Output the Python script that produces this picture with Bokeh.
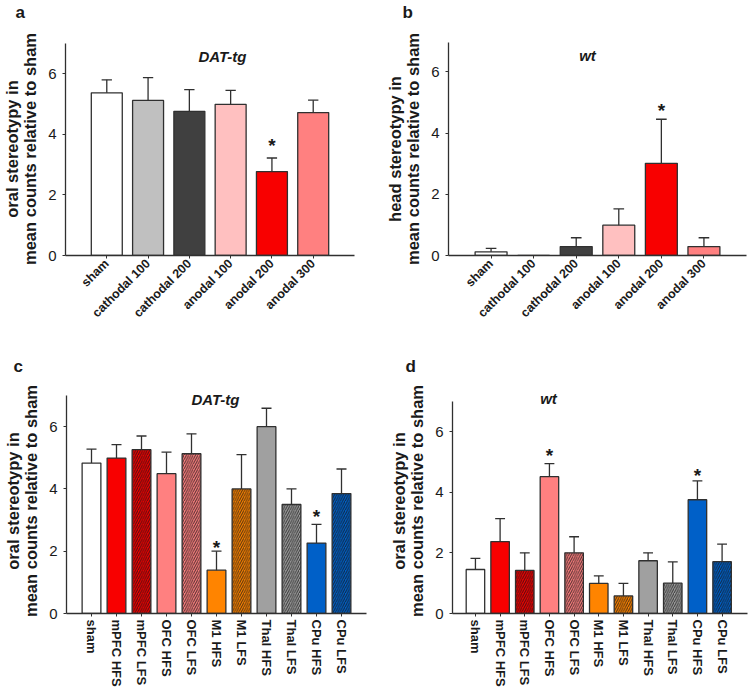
import math
from bokeh.plotting import figure
from bokeh.models import Range1d, FixedTicker, Label, Title
from bokeh.layouts import column, row
from bokeh.embed import file_html
from bokeh.resources import INLINE
from bokeh.core.properties import value

FONT = "Liberation Sans"
INK = "#1a1a1a"

# ---------------- data ----------------
ab_labels = ["sham", "cathodal 100", "cathodal 200", "anodal 100", "anodal 200", "anodal 300"]
ab_colors = ["#FFFFFF", "#C0C0C0", "#404040", "#FFC0C0", "#F80000", "#FF8080"]
ab_hatch = [" ", " ", " ", " ", " ", " "]

a_means = [5.37, 5.12, 4.76, 4.99, 2.77, 4.72]
a_upper = [5.80, 5.87, 5.48, 5.45, 3.22, 5.13]
a_stars = {"anodal 200": 3.96}

b_means = [0.12, 0.0, 0.29, 0.99, 3.01, 0.29]
b_upper = [0.23, 0.0, 0.58, 1.52, 4.45, 0.58]
b_stars = {"anodal 200": 5.05}

cd_labels = ["sham", "mPFC HFS", "mPFC LFS", "OFC HFS", "OFC LFS", "M1 HFS", "M1 LFS",
             "Thal HFS", "Thal LFS", "CPu HFS", "CPu LFS"]
cd_colors = ["#FFFFFF", "#F80000", "#F80000", "#FF8080", "#FF8080", "#FF8400", "#FF8400",
             "#A0A0A0", "#A0A0A0", "#0060C8", "#0060C8"]
cd_hatch = [" ", " ", "/", " ", "/", " ", "/", " ", "/", " ", "/"]

c_means = [4.83, 4.99, 5.26, 4.49, 5.13, 1.39, 4.00, 6.00, 3.50, 2.26, 3.85]
c_upper = [5.28, 5.42, 5.70, 5.18, 5.77, 2.00, 5.10, 6.59, 4.00, 2.86, 4.64]
c_stars = {"M1 HFS": 2.44, "CPu HFS": 3.45}

d_means = [1.45, 2.37, 1.42, 4.51, 2.00, 0.99, 0.58, 1.74, 1.00, 3.75, 1.71]
d_upper = [1.82, 3.13, 2.00, 4.94, 2.53, 1.24, 0.99, 2.00, 1.70, 4.37, 2.29]
d_stars = {"OFC HFS": 5.53, "CPu HFS": 4.87}

y_ticks = [0, 2, 4, 6]
Y_TOP = 7

oral = "oral stereotypy in\nmean counts relative to sham"
head = "head stereotypy in\nmean counts relative to sham"


def bar_panel(labels, means, upper, colors, hatches, stars, *, width, height, left, top,
              fw, bottom, data_h, xr, cap, orient, lab_size, ylab, title, title_pos,
              letter, letter_offset, letter_standoff, spacer):
    fh = height - top - bottom
    ymax = Y_TOP * fh / data_h
    p = figure(width=width, height=height, output_backend="svg", toolbar_location=None,
               x_range=Range1d(*xr), y_range=Range1d(0, ymax),
               min_border_left=left, min_border_top=top,
               min_border_right=width - left - fw, min_border_bottom=bottom)
    p.outline_line_color = None
    p.xgrid.visible = False
    p.ygrid.visible = False

    xs = list(range(1, len(labels) + 1))
    p.vbar(x=xs, top=means, width=0.75, fill_color=colors, line_color="#303030",
           line_width=1.3, hatch_pattern=hatches, hatch_color="#151515",
           hatch_scale=4.6, hatch_weight=1.0, hatch_alpha=0.75)

    keep = [i for i, (m, u) in enumerate(zip(means, upper)) if u > m]
    ex = [xs[i] for i in keep]
    em = [means[i] for i in keep]
    eu = [upper[i] for i in keep]
    p.segment(x0=ex, y0=em, x1=ex, y1=eu, line_color="#303030", line_width=1.3)
    p.segment(x0=[x - cap / 2 for x in ex], y0=eu, x1=[x + cap / 2 for x in ex], y1=eu,
              line_color="#303030", line_width=1.3)

    sx = [labels.index(k) + 1 for k in stars]
    sy = list(stars.values())
    p.text(x=sx, y=sy, text=["*"] * len(sx), text_font=value(FONT), text_font_style="bold",
           text_font_size="19px", text_align="center", text_baseline="alphabetic",
           y_offset=10, text_color=INK)

    p.yaxis.ticker = FixedTicker(ticks=y_ticks)
    p.yaxis.bounds = (0, Y_TOP)
    p.yaxis.minor_tick_line_color = None
    p.yaxis.major_tick_in = 0
    p.yaxis.major_tick_out = 3
    p.yaxis.major_label_standoff = 6
    p.yaxis.major_label_text_font = FONT
    p.yaxis.major_label_text_font_size = "15px"
    p.yaxis.major_label_text_color = INK
    p.yaxis.axis_label = ylab
    p.yaxis.axis_label_standoff = 6
    p.yaxis.axis_label_text_font = FONT
    p.yaxis.axis_label_text_font_style = "bold"
    p.yaxis.axis_label_text_font_size = "16.5px"
    p.yaxis.axis_label_text_line_height = 1.0
    p.yaxis.axis_label_text_color = INK

    p.xaxis.ticker = FixedTicker(ticks=xs)
    p.xaxis.major_label_overrides = {x: l for x, l in zip(xs, labels)}
    p.xaxis.minor_tick_line_color = None
    p.xaxis.major_tick_in = 0
    p.xaxis.major_tick_out = 3
    p.xaxis.major_label_standoff = 3
    p.xaxis.major_label_orientation = orient
    p.xaxis.major_label_text_font = FONT
    p.xaxis.major_label_text_font_style = "bold"
    p.xaxis.major_label_text_font_size = lab_size
    p.xaxis.major_label_text_color = INK
    for ax in (p.xaxis, p.yaxis):
        ax.axis_line_color = "#303030"
        ax.axis_line_width = 1.3
        ax.major_tick_line_color = "#303030"

    p.add_layout(Label(x=title_pos[0], y=title_pos[1], x_units="screen", y_units="screen",
                       text=title, text_align="center", text_baseline="alphabetic",
                       text_font=FONT, text_font_style="bold italic", text_font_size="15px",
                       text_color=INK))
    if spacer:
        # empty slot between the frame and the panel letter
        p.add_layout(Title(text=" ", standoff=0, text_font=FONT, text_font_size="15px"),
                     "above")
        valign = "top"
    else:
        valign = "bottom"
    p.add_layout(Title(text=letter, align="left", offset=letter_offset,
                       vertical_align=valign, standoff=letter_standoff,
                       text_font=FONT, text_font_style="bold", text_font_size="17px",
                       text_color=INK), "above")
    return p


H1, T1, B1 = 340, 42, 85   # row 1: height, top border, bottom border (x axis at y=255)
H2, T2, B2 = 356, 48, 83   # row 2 (x axis at y=340+273)

pa = bar_panel(ab_labels, a_means, a_upper, ab_colors, ab_hatch, a_stars,
               width=375, height=H1, left=63, top=T1, fw=291, bottom=B1, data_h=212,
               xr=(0, 7), cap=0.25, orient=math.pi / 4, lab_size="12.5px", ylab=oral,
               title="DAT-tg", title_pos=(157, 199), letter="a", letter_offset=-50,
               letter_standoff=0, spacer=True)
pb = bar_panel(ab_labels, b_means, b_upper, ab_colors, ab_hatch, b_stars,
               width=375, height=H1, left=73, top=T1, fw=298, bottom=B1, data_h=214.3,
               xr=(0, 7), cap=0.25, orient=math.pi / 4, lab_size="12.5px", ylab=head,
               title="wt", title_pos=(139, 200), letter="b", letter_offset=-46,
               letter_standoff=0, spacer=True)
pc = bar_panel(cd_labels, c_means, c_upper, cd_colors, cd_hatch, c_stars,
               width=375, height=H2, left=66, top=T2, fw=300, bottom=B2, data_h=218,
               xr=(0, 12), cap=0.4, orient="vertical", lab_size="13px", ylab=oral,
               title="DAT-tg", title_pos=(149, 214), letter="c", letter_offset=-53,
               letter_standoff=26, spacer=False)
pd_ = bar_panel(cd_labels, d_means, d_upper, cd_colors, cd_hatch, d_stars,
                width=375, height=H2, left=77, top=T2, fw=295, bottom=B2, data_h=212.3,
                xr=(0.07, 12.03), cap=0.4, orient="vertical", lab_size="13px", ylab=oral,
                title="wt", title_pos=(96, 215), letter="d", letter_offset=-47,
                letter_standoff=26, spacer=False)

layout = column(row(pa, pb), row(pc, pd_))
open("out.html", "w").write(file_html(layout, INLINE, title="stereotypy"))
